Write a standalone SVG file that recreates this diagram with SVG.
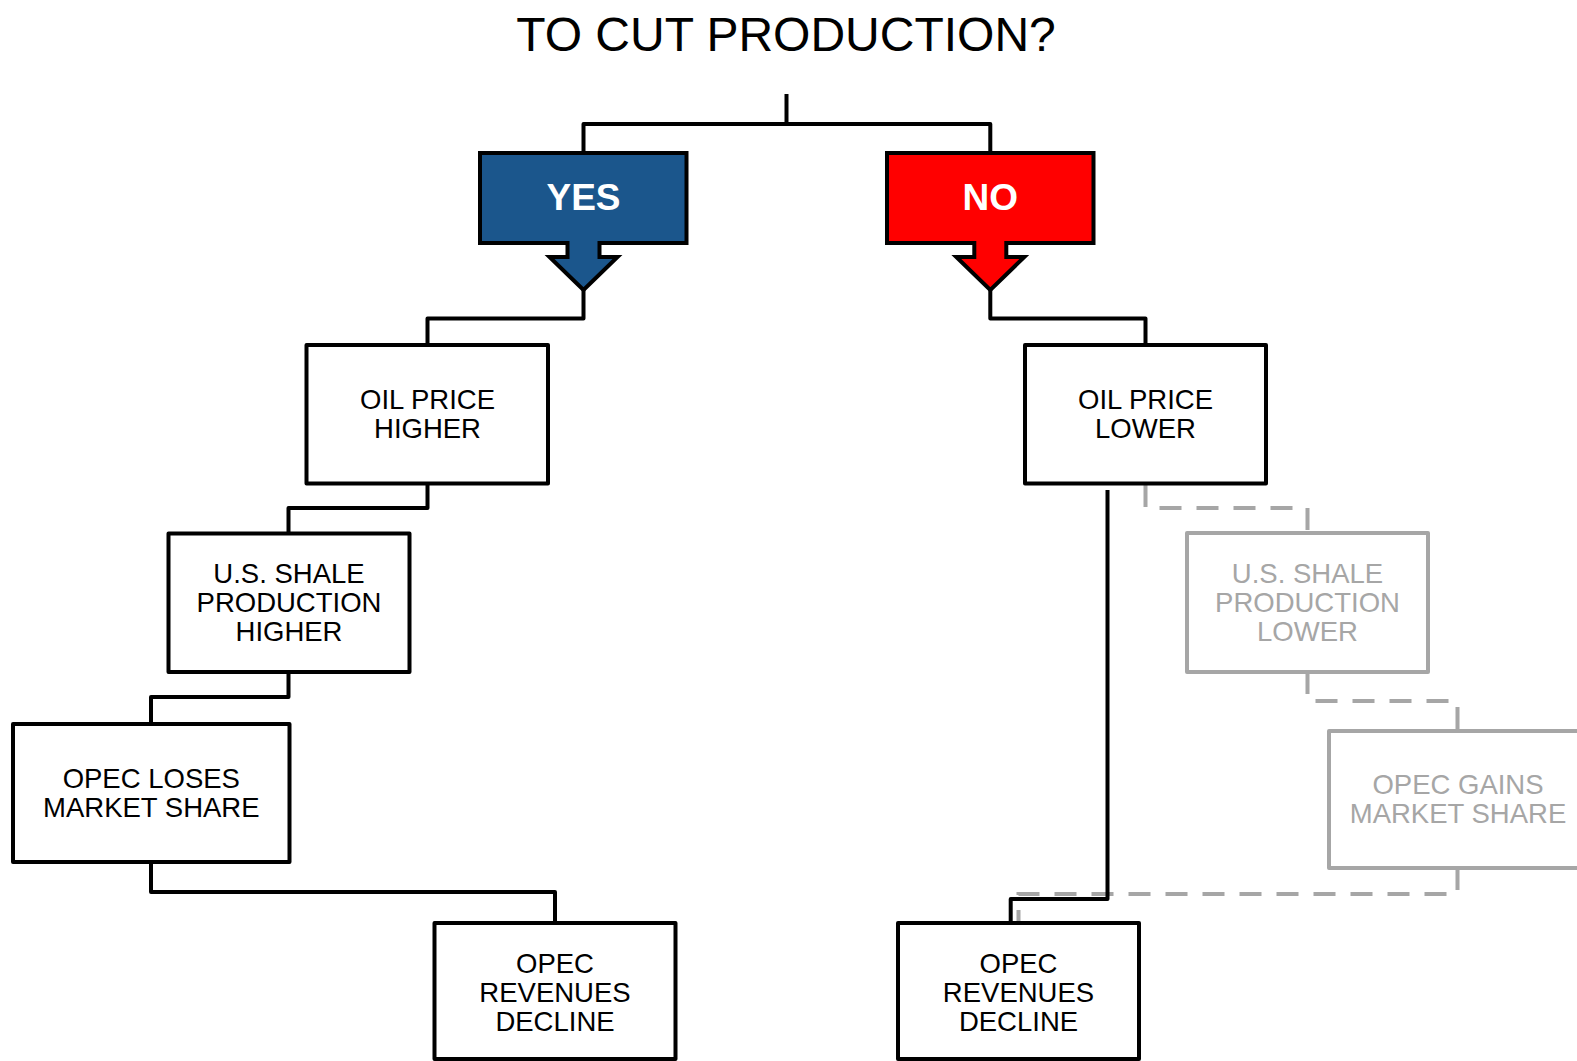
<svg xmlns="http://www.w3.org/2000/svg" width="1577" height="1061" viewBox="0 0 1577 1061">
<style>
.box{fill:#ffffff;stroke:#000000;stroke-width:4;stroke-linejoin:round}
.gbox{fill:#ffffff;stroke:#a6a6a6;stroke-width:4;stroke-linejoin:round}
.t{font-family:"Liberation Sans",Arial,sans-serif;font-size:27.5px;fill:#000000;text-anchor:middle}
.gt{font-family:"Liberation Sans",Arial,sans-serif;font-size:27.5px;fill:#a6a6a6;text-anchor:middle}
.yn{font-family:"Liberation Sans",Arial,sans-serif;font-size:37px;font-weight:bold;fill:#ffffff;text-anchor:middle}
.c{fill:none;stroke:#000000;stroke-width:4;stroke-linejoin:round}
.d{fill:none;stroke:#a6a6a6;stroke-width:4;stroke-dasharray:22 15}
</style>
<rect width="1577" height="1061" fill="#ffffff"/>
<text id="title" x="786" y="50.5" font-family="Liberation Sans, Arial, sans-serif" font-size="48" text-anchor="middle" fill="#000000">TO CUT PRODUCTION?</text>
<g id="connectors">
<path class="c" d="M786.5,94 V124"/>
<path class="c" d="M583.5,153 V124 H990.3 V153"/>
<path class="c" d="M583.5,288 V318.5 H427.5 V345"/>
<path class="c" d="M427.5,483.5 V508 H288.5 V533.5"/>
<path class="c" d="M288.5,672 V697 H151 V724"/>
<path class="c" d="M151,862 V892 H555 V923"/>
<path class="c" d="M990.3,288 V318.5 H1145.5 V345"/>
<path class="d" d="M1145.5,485 V508 H1307.5 V533"/>
<path class="d" d="M1307.5,672 V701 H1457.5 V731"/>
<path class="d" d="M1457.5,868 V894 H1018.5 V923"/>
<path class="c" d="M1107.5,490 V899 H1010.7 V923"/>
</g>
<g id="yes">
<path d="M480,153 H686.5 V243 H599.5 V257 H617.5 L583.5,290 L549.5,257 H567.5 V243 H480 Z" fill="#1b568c" stroke="#000000" stroke-width="4" stroke-linejoin="miter"/>
<text class="yn" x="583.5" y="210">YES</text>
</g>
<g id="no">
<path d="M887,153 H1093.5 V243 H1006.3 V257 H1024.3 L990.3,290 L956.3,257 H974.3 V243 H887 Z" fill="#ff0000" stroke="#000000" stroke-width="4" stroke-linejoin="miter"/>
<text class="yn" x="990.3" y="210">NO</text>
</g>
<g id="oil-higher">
<rect class="box" x="306.5" y="345" width="241.5" height="138.5"/>
<text class="t" x="427.5" y="409">OIL PRICE</text>
<text class="t" x="427.5" y="438">HIGHER</text>
</g>
<g id="shale-higher">
<rect class="box" x="168.5" y="533.5" width="241" height="138.5"/>
<text class="t" x="289" y="583">U.S. SHALE</text>
<text class="t" x="289" y="612">PRODUCTION</text>
<text class="t" x="289" y="641">HIGHER</text>
</g>
<g id="opec-loses">
<rect class="box" x="13" y="724" width="276.5" height="138"/>
<text class="t" x="151.3" y="787.5">OPEC LOSES</text>
<text class="t" x="151.3" y="816.5">MARKET SHARE</text>
</g>
<g id="revenues-left">
<rect class="box" x="434.5" y="923" width="241" height="136"/>
<text class="t" x="555" y="972.5">OPEC</text>
<text class="t" x="555" y="1001.5">REVENUES</text>
<text class="t" x="555" y="1030.5">DECLINE</text>
</g>
<g id="oil-lower">
<rect class="box" x="1025" y="345" width="241" height="138.5"/>
<text class="t" x="1145.5" y="409">OIL PRICE</text>
<text class="t" x="1145.5" y="438">LOWER</text>
</g>
<g id="shale-lower">
<rect class="gbox" x="1187" y="533" width="241" height="139"/>
<text class="gt" x="1307.5" y="583">U.S. SHALE</text>
<text class="gt" x="1307.5" y="612">PRODUCTION</text>
<text class="gt" x="1307.5" y="641">LOWER</text>
</g>
<g id="opec-gains">
<rect class="gbox" x="1329" y="731" width="277" height="137"/>
<text class="gt" x="1458" y="794">OPEC GAINS</text>
<text class="gt" x="1458" y="823">MARKET SHARE</text>
</g>
<g id="revenues-right">
<rect class="box" x="898" y="923" width="241" height="136"/>
<text class="t" x="1018.5" y="972.5">OPEC</text>
<text class="t" x="1018.5" y="1001.5">REVENUES</text>
<text class="t" x="1018.5" y="1030.5">DECLINE</text>
</g>
</svg>
